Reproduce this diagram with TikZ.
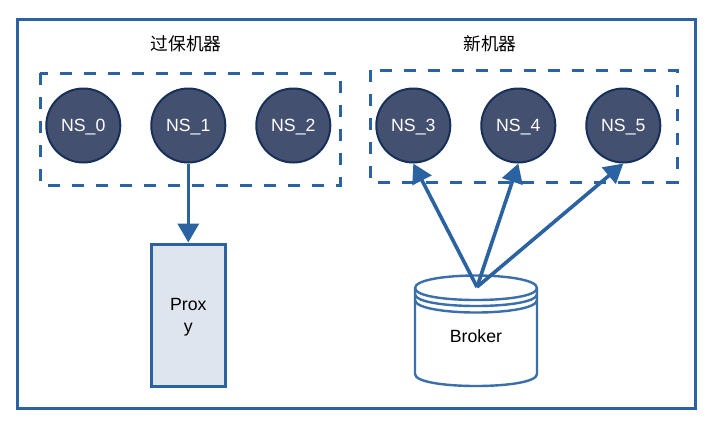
\documentclass[tikz,border=0pt]{standalone}
\usepackage{fontspec}
\setmainfont{Liberation Sans}
\newfontfamily\cjk{Noto Sans CJK SC}
\usetikzlibrary{arrows.meta}
\definecolor{lineblue}{HTML}{2A62A2}
\definecolor{cylline}{HTML}{3A6FAC}
\definecolor{nsfill}{HTML}{44506F}
\definecolor{nsline}{HTML}{16305A}
\definecolor{proxyfill}{HTML}{DEE5EF}
\tikzset{
  x=1pt,y=-1pt,
  base/.style={font=\fontsize{17.7}{22}\selectfont},
  frame/.style={draw=lineblue,line width=3pt},
  dashbox/.style={draw=lineblue,line width=3pt,dash pattern=on 12pt off 12pt},
  ns/.style={base,circle,draw=nsline,line width=2pt,fill=nsfill,text=white,minimum size=74pt,inner sep=0pt,text height=12.7pt,text depth=0pt},
  link/.style={draw=lineblue,line width=3.6pt,-{Triangle[length=19pt,width=21pt]}},
  cylstroke/.style={draw=cylline,line width=2.4pt},
}
\begin{document}
\begin{tikzpicture}
\useasboundingbox (0,0) rectangle (706,432);
\fill[white] (0,0) rectangle (706,432);
\draw[frame] (17,19) rectangle (695,408);
\draw[dashbox] (40,73) rectangle (340,185);
\draw[dashbox] (370,70) rectangle (677,182);
\node[base] (oldlabel) at (186,44) {\cjk 过保机器};
\node[base] (newlabel) at (490,44) {\cjk 新机器};
\node[ns] (ns0) at (83.3,125.5) {NS\_0};
\node[ns] (ns1) at (188.3,125.5) {NS\_1};
\node[ns] (ns2) at (293.3,125.5) {NS\_2};
\node[ns] (ns3) at (413.3,125.5) {NS\_3};
\node[ns] (ns4) at (518.3,125.5) {NS\_4};
\node[ns] (ns5) at (623.3,125.5) {NS\_5};
\node[draw=lineblue,line width=3pt,fill=proxyfill,minimum width=74pt,minimum height=142pt,inner sep=0pt] (proxy) at (188.3,315) {};
\node[base,align=center,text=black] (proxylabel) at (188.3,317.5) {Prox\\y};
% cylinder
\draw[cylstroke,fill=white] (415,288) .. controls (415,280) and (445,275.5) .. (476,275.5) .. controls (507,275.5) and (537,280) .. (537,288) -- (537,374) .. controls (537,382) and (507,386) .. (476,386) .. controls (445,386) and (415,382) .. (415,374) -- cycle;
\draw[cylstroke] (415,288) .. controls (415,296) and (445,300) .. (476,300) .. controls (507,300) and (537,296) .. (537,288);
\draw[cylstroke] (415,294) .. controls (415,302) and (445,306) .. (476,306) .. controls (507,306) and (537,302) .. (537,294);
\draw[cylstroke] (415,300) .. controls (415,308) and (445,312.5) .. (476,312.5) .. controls (507,312.5) and (537,308) .. (537,300);
\node[base,text=black] (broker) at (476,336) {Broker};
\coordinate (brokertop) at (477,287);
\draw[link] (ns1.south) -- (proxy.north);
\draw[link] (brokertop) -- (ns3.south);
\draw[link] (brokertop) -- (ns4.south);
\draw[link] (brokertop) -- (ns5.south);
\end{tikzpicture}
\end{document}
